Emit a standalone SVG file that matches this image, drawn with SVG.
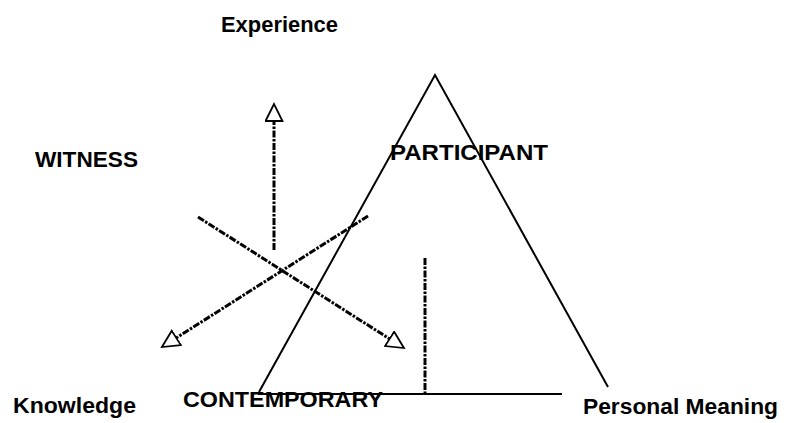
<svg xmlns="http://www.w3.org/2000/svg" width="787" height="423" viewBox="0 0 787 423">
  <style>
    .lbl { font-family: "Liberation Sans", Arial, sans-serif; font-weight: bold; font-size: 22px; fill: #000; }
    .solid { stroke: #000; stroke-width: 2; fill: none; }
    .dash { stroke: #000; stroke-width: 3; fill: none; stroke-dasharray: 7 1.5 2.5 1.5; }
  </style>
  <defs>
    <marker id="open-head" markerUnits="userSpaceOnUse" markerWidth="20" markerHeight="20" viewBox="-1 -1 20 20" refX="0" refY="8.5" orient="auto">
      <path d="M0,0 L17,8.5 L0,17 Z" fill="#fff" stroke="#000" stroke-width="1.8"/>
    </marker>
  </defs>
  <rect width="787" height="423" fill="#fff"/>

  <g id="triangle">
    <polyline class="solid" points="259,392 435,75 608,387"/>
    <line class="solid" x1="258" y1="394" x2="562" y2="394"/>
  </g>

  <g id="connectors">
    <line class="dash" x1="274" y1="250" x2="274" y2="121" marker-end="url(#open-head)"/>
    <line class="dash" x1="198" y1="217" x2="389.6" y2="338.9" marker-end="url(#open-head)"/>
    <line class="dash" x1="368" y1="216" x2="176.3" y2="337.9" marker-end="url(#open-head)"/>
    <line class="dash" x1="425" y1="258" x2="425" y2="395"/>
  </g>

  <g id="experience"><text class="lbl" x="221" y="32" textLength="117" lengthAdjust="spacingAndGlyphs">Experience</text></g>
  <g id="witness"><text class="lbl" x="35" y="167" textLength="103" lengthAdjust="spacingAndGlyphs">WITNESS</text></g>
  <g id="participant"><text class="lbl" x="390" y="160" textLength="158" lengthAdjust="spacingAndGlyphs">PARTICIPANT</text></g>
  <g id="knowledge"><text class="lbl" x="13" y="413" textLength="123" lengthAdjust="spacingAndGlyphs">Knowledge</text></g>
  <g id="contemporary"><text class="lbl" x="183" y="407" textLength="200" lengthAdjust="spacingAndGlyphs">CONTEMPORARY</text></g>
  <g id="personal-meaning"><text class="lbl" x="583" y="414" textLength="195" lengthAdjust="spacingAndGlyphs">Personal Meaning</text></g>
</svg>
